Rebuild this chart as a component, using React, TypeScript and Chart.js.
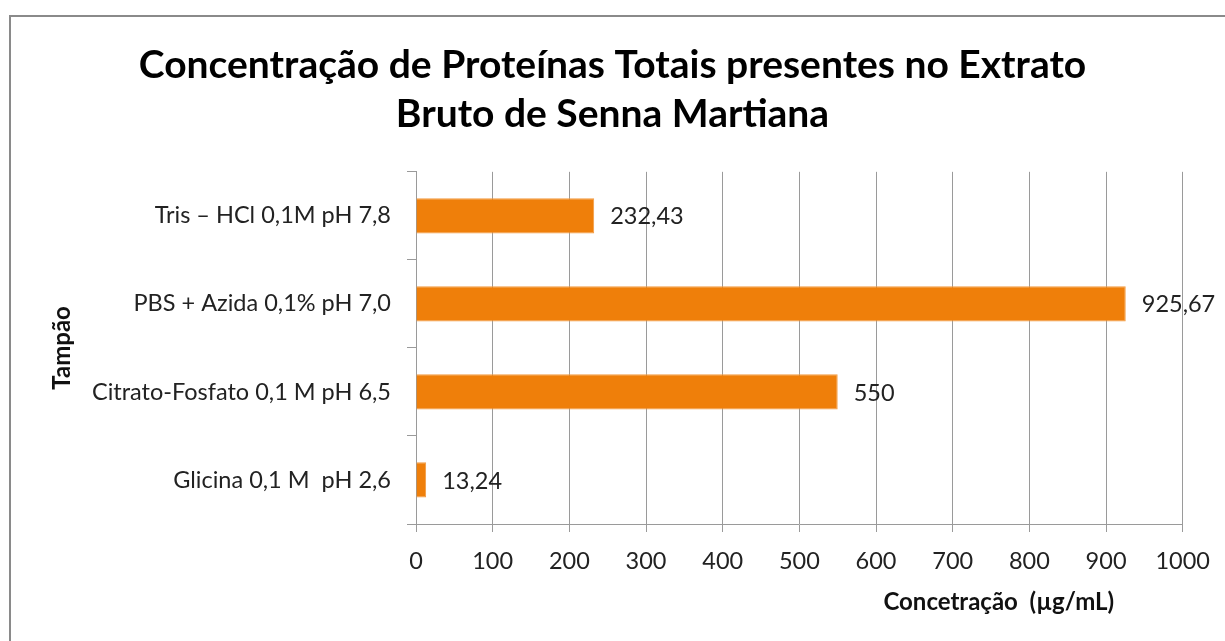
import React, { useEffect, useRef } from "react";
import { Chart, registerables } from "chart.js";

Chart.register(...registerables);

const categories = [
  "Tris – HCl 0,1M pH 7,8",
  "PBS + Azida 0,1% pH 7,0",
  "Citrato-Fosfato 0,1 M pH 6,5",
  "Glicina 0,1 M  pH 2,6",
];
const values = [232.43, 925.67, 550, 13.24];
const titleLines = [
  "Concentração de Proteínas Totais presentes no Extrato",
  "Bruto de Senna Martiana",
];
const xTitle = "Concetração  (µg/mL)";
const yTitle = "Tampão";

const FONT = "Lato, 'Open Sans', sans-serif";
const W = 1225;
const H = 641;

const framePlugin = {
  id: "frame",
  beforeDraw(chart: any) {
    const ctx = chart.ctx;
    ctx.save();
    ctx.fillStyle = "#ffffff";
    ctx.fillRect(0, 0, W, H);
    ctx.strokeStyle = "#8a8a8a";
    ctx.lineWidth = 2;
    ctx.strokeRect(10, 16, W + 100, H + 100);
    ctx.restore();
  },
};

const labelPlugin = {
  id: "valueLabels",
  afterDatasetsDraw(chart: any) {
    const ctx = chart.ctx;
    const meta = chart.getDatasetMeta(0);
    ctx.save();
    ctx.font = `23.5px ${FONT}`;
    ctx.fillStyle = "#222222";
    ctx.textAlign = "left";
    ctx.textBaseline = "middle";
    meta.data.forEach((bar: any, i: number) => {
      const txt = String(values[i]).replace(".", ",");
      ctx.fillText(txt, bar.x + 16, bar.y + 1);
    });
    const ca = chart.chartArea;
    ctx.font = `bold 24px ${FONT}`;
    ctx.fillStyle = "#111111";
    ctx.textAlign = "center";
    ctx.fillText(xTitle, ca.right - 184, 602);
    ctx.restore();
  },
};

export default function App() {
  const ref = useRef<HTMLCanvasElement | null>(null);
  useEffect(() => {
    if (!ref.current) return;
    const chart = new Chart(ref.current, {
      type: "bar",
      data: {
        labels: categories,
        datasets: [
          {
            data: values,
            backgroundColor: "#EF7F0A",
            borderColor: "#F39A40",
            borderWidth: 1,
            barPercentage: 0.4,
            categoryPercentage: 1,
          },
        ],
      },
      options: {
        indexAxis: "y",
        responsive: false,
        animation: false,
        layout: { padding: { left: 40, right: 40, top: 0, bottom: 0 } },
        plugins: {
          legend: { display: false },
          tooltip: { enabled: false },
          title: {
            display: true,
            text: titleLines,
            color: "#000000",
            font: { family: FONT, size: 39, weight: "bold", lineHeight: 1.28 },
            padding: { top: 40, bottom: 32 },
          },
        },
        scales: {
          x: {
            min: 0,
            max: 1000,
            ticks: {
              stepSize: 100,
              color: "#222222",
              font: { family: FONT, size: 23.5 },
              padding: 15,
              maxRotation: 0,
              callback: (v: any) => String(v),
            },
            grid: {
              color: "#9a9a9a",
              lineWidth: 1,
              tickLength: 8,
              drawOnChartArea: true,
            },
            border: { color: "#9a9a9a", width: 1 },
            afterFit: (scale: any) => {
              scale.height = H - 524;
            },
          },
          y: {
            ticks: {
              color: "#222222",
              font: { family: FONT, size: 23.5 },
              padding: 16,
            },
            grid: {
              display: true,
              drawOnChartArea: false,
              color: "#9a9a9a",
              tickLength: 9,
            },
            border: { color: "#9a9a9a", width: 1 },
            title: {
              display: true,
              text: yTitle,
              color: "#111111",
              font: { family: FONT, size: 24, weight: "bold" },
              padding: { top: 8, bottom: 4 },
            },
            afterFit: (scale: any) => {
              scale.width = 416 - 40;
            },
          },
        },
      },
      plugins: [framePlugin, labelPlugin],
    });
    return () => chart.destroy();
  }, []);
  return (
    <div style={{ position: "fixed", left: 0, top: 0, width: W, height: H, background: "#fff" }}>
      <canvas ref={ref} width={W} height={H} style={{ width: W, height: H, display: "block" }} />
    </div>
  );
}
